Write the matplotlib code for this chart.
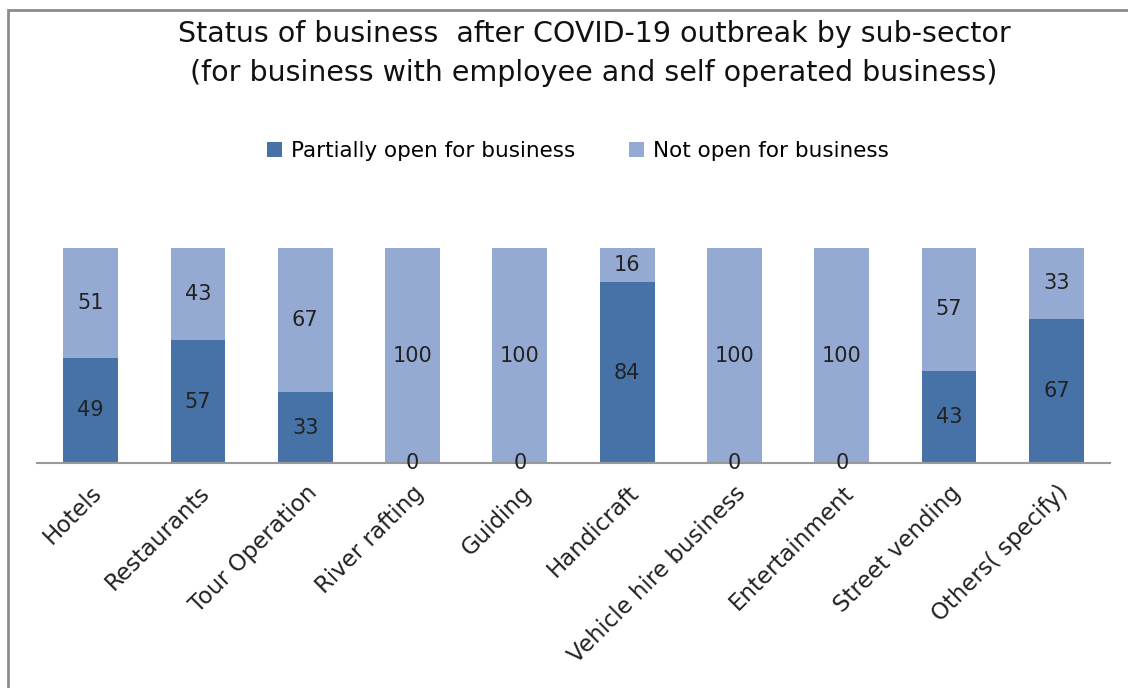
import matplotlib.pyplot as plt
import numpy as np
from matplotlib.patches import Rectangle

plt.rcParams['font.family'] = ['DejaVu Sans']

categories = ["Hotels", "Restaurants", "Tour Operation", "River rafting", "Guiding",
              "Handicraft", "Vehicle hire business", "Entertainment", "Street vending",
              "Others( specify)"]
partially_open = [49, 57, 33, 0, 0, 84, 0, 0, 43, 67]
not_open = [51, 43, 67, 100, 100, 16, 100, 100, 57, 33]

dark = "#4672A7"
light = "#95AAD3"

fig = plt.figure(figsize=(11.28, 6.88), dpi=100)
W, H = 1128, 688
ax = fig.add_axes([37 / W, (H - 463) / H, (1110 - 37) / W, (463 - 248) / H])

x = np.arange(len(categories))
b1 = ax.bar(x, partially_open, width=0.51, color=dark, label="Partially open for business")
b2 = ax.bar(x, not_open, width=0.51, bottom=partially_open, color=light,
            label="Not open for business")

# labels au centre des segments
for xi, p, n in zip(x, partially_open, not_open):
    ax.text(xi, p / 2, str(p), ha="center", va="center", fontsize=15, color="#222222")
    ax.text(xi, p + n / 2, str(n), ha="center", va="center", fontsize=15, color="#222222")

ax.set_xlim(-0.5, len(categories) - 0.5)
ax.set_ylim(0, 100)
ax.set_yticks([])
for s in ["left", "right", "top"]:
    ax.spines[s].set_visible(False)
ax.spines["bottom"].set_color("#999999")
ax.spines["bottom"].set_linewidth(1.5)
ax.set_xticks(x)
ax.set_xticklabels(categories, rotation=45, ha="right", rotation_mode="anchor",
                   fontsize=16.5, color="#222222")
ax.tick_params(axis="x", length=0, pad=13)

fig.text(594 / W, 1 - 34 / H, "Status of business  after COVID-19 outbreak by sub-sector",
         ha="center", va="center", fontsize=20.5, color="#111111")
fig.text(594 / W, 1 - 73 / H, "(for business with employee and self operated business)",
         ha="center", va="center", fontsize=20.5, color="#111111")

fig.legend(handles=[b1, b2], loc="center", bbox_to_anchor=(578 / W, 1 - 151 / H),
           ncol=2, frameon=False, fontsize=15.5, handlelength=0.7, handleheight=0.7,
           columnspacing=2.5, handletextpad=0.4)

# cadre
fig.patches.append(Rectangle((8 / W, -0.1), 1.2, 1 - 10 / H + 0.1, transform=fig.transFigure,
                             fill=False, edgecolor="#8c8c8c", linewidth=2))

fig.savefig("out.png", dpi=100)
